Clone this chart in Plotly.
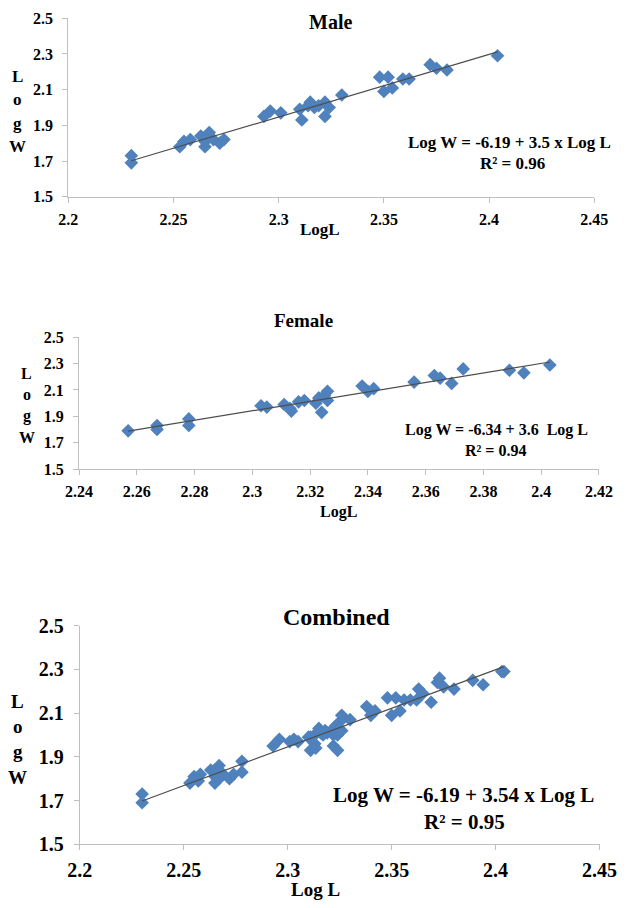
import numpy as np
import plotly.graph_objects as go

# ---------------- data ----------------
male_logL = [2.230, 2.230, 2.253, 2.255, 2.258, 2.263, 2.265, 2.265, 2.267, 2.269,
             2.272, 2.274, 2.293, 2.296, 2.301, 2.310, 2.311, 2.314, 2.315, 2.317,
             2.319, 2.322, 2.322, 2.324, 2.330, 2.348, 2.352, 2.350, 2.354, 2.359,
             2.362, 2.372, 2.375, 2.380, 2.404]
male_logW = [1.73, 1.69, 1.78, 1.81, 1.82, 1.84, 1.81, 1.78, 1.86, 1.82,
             1.80, 1.82, 1.95, 1.98, 1.97, 1.99, 1.93, 2.01, 2.03, 2.00,
             2.01, 2.03, 1.95, 2.00, 2.07, 2.17, 2.17, 2.09, 2.11, 2.16,
             2.16, 2.24, 2.22, 2.21, 2.29]

female_logL = [2.257, 2.267, 2.267, 2.278, 2.278, 2.303, 2.305, 2.311, 2.313, 2.3135,
               2.316, 2.318, 2.322, 2.323, 2.324, 2.325, 2.326, 2.326, 2.338, 2.340,
               2.342, 2.356, 2.363, 2.365, 2.369, 2.373, 2.389, 2.394, 2.403]
female_logW = [1.79, 1.83, 1.80, 1.88, 1.83, 1.98, 1.97, 1.99, 1.96, 1.94,
               2.01, 2.02, 2.00, 2.04, 1.93, 2.06, 2.09, 2.02, 2.13, 2.09,
               2.11, 2.16, 2.21, 2.19, 2.15, 2.26, 2.25, 2.23, 2.29]

combined_logL = male_logL + female_logL
combined_logW = male_logW + female_logW

x_ticks_mf = [2.2, 2.25, 2.3, 2.35, 2.4, 2.45]
x_ticktext_mf = ["2.2", "2.25", "2.3", "2.35", "2.4", "2.45"]
x_ticks_f = [2.24, 2.26, 2.28, 2.3, 2.32, 2.34, 2.36, 2.38, 2.4, 2.42]
x_ticktext_f = ["2.24", "2.26", "2.28", "2.3", "2.32", "2.34", "2.36", "2.38", "2.4", "2.42"]
y_ticks = [1.5, 1.7, 1.9, 2.1, 2.3, 2.5]
y_ticktext = ["1.5", "1.7", "1.9", "2.1", "2.3", "2.5"]

eq_male = "Log W = -6.19 + 3.5 x Log L"
r2_male = "R² = 0.96"
eq_female = "Log W = -6.34 + 3.6  Log L"
r2_female = "R² = 0.94"
eq_comb = "Log W = -6.19 + 3.54 x Log L"
r2_comb = "R² = 0.95"

# ---------------- layout helpers ----------------
OFF = 8                            # default page body margin
REF_W = 627 - OFF                  # reference width measured from the margin
W, H = 611, 908 - 2 * OFF          # figure size kept inside the visible area
FONT = "Liberation Serif"
BLUE = "#4F81BD"
AXC = "#BFBFBF"


def px(x):
    return (x - OFF) / REF_W


def py(y):
    return 1 - (y - OFF) / H


def bold(labels):
    return ["<b>%s</b>" % s for s in labels]


fig = go.Figure()

panels = [
    dict(xs=male_logL, ys=male_logW, ax="", box=(69, 602, 18.3, 196.7),
         xr=[2.2, 2.45], xt=x_ticks_mf, xtt=x_ticktext_mf, tf=16),
    dict(xs=female_logL, ys=female_logW, ax="2", box=(80, 606.7, 337.3, 469),
         xr=[2.24, 2.42], xt=x_ticks_f, xtt=x_ticktext_f, tf=16),
    dict(xs=combined_logL, ys=combined_logW, ax="3", box=(80.7, 607.3, 625.7, 844.3),
         xr=[2.2, 2.45], xt=x_ticks_mf, xtt=x_ticktext_mf, tf=20),
]

for p in panels:
    xa = "x" + p["ax"]
    ya = "y" + p["ax"]
    fig.add_trace(go.Scatter(
        x=p["xs"], y=p["ys"], mode="markers", xaxis=xa, yaxis=ya,
        marker=dict(symbol="diamond", size=10.5, color=BLUE, line=dict(width=0)),
        showlegend=False, hoverinfo="skip"))
    k, b = np.polyfit(p["xs"], p["ys"], 1)
    lx = np.array([min(p["xs"]), max(p["xs"])])
    fig.add_trace(go.Scatter(
        x=lx, y=k * lx + b, mode="lines", xaxis=xa, yaxis=ya,
        line=dict(color="#4D4D4D", width=1.2),
        showlegend=False, hoverinfo="skip"))
    x0, x1, yt, yb = p["box"]
    axis_common = dict(showline=True, linecolor=AXC, linewidth=1, ticks="outside",
                       ticklen=5, tickcolor=AXC, tickwidth=1, showgrid=False,
                       zeroline=False, automargin=False,
                       tickfont=dict(family=FONT, size=p["tf"], color="black"))
    fig.update_layout(**{
        ("xaxis" + p["ax"]): dict(domain=[px(x0), px(x1)], range=p["xr"],
                                  tickvals=p["xt"], ticktext=bold(p["xtt"]),
                                  anchor=ya, ticklabelstandoff=3, **axis_common),
        ("yaxis" + p["ax"]): dict(domain=[py(yb), py(yt)], range=[1.5, 2.5],
                                  tickvals=y_ticks, ticktext=bold(y_ticktext),
                                  anchor=xa, ticklabelstandoff=6, **axis_common),
    })

annotations = []


def txt(text, x, y, size):
    annotations.append(dict(text="<b>%s</b>" % text, x=px(x), y=py(y), xref="paper", yref="paper",
                            xanchor="center", yanchor="middle", showarrow=False,
                            font=dict(family=FONT, size=size, color="black")))


# titles
txt("Male", 335, 22, 20)
txt("Female", 307, 320, 19)
txt("Combined", 341, 617, 24)
# x titles
txt("LogL", 324, 230, 17)
txt("LogL", 343, 512, 16)
txt("Log L", 320, 889, 19)
# equations
txt(eq_male, 516, 143, 17)
txt(r2_male, 519, 163, 17)
txt(eq_female, 503, 430, 16)
txt(r2_female, 502, 450, 16)
txt(eq_comb, 469, 795, 21)
txt(r2_comb, 470, 822, 21)
# stacked y titles
for letters_x, y_first, y_last, size in [(18, 76, 147, 17), (27, 373, 437, 16), (18, 701, 777, 19)]:
    letters = ["L", "o", "g", "W"]
    for i, ch in enumerate(letters):
        txt(ch, letters_x, y_first + (y_last - y_first) * i / 3, size)

fig.update_layout(width=W, height=H, autosize=False,
                  margin=dict(l=0, r=0, t=0, b=0),
                  paper_bgcolor="white", plot_bgcolor="white",
                  annotations=annotations)

fig.write_html("out.html")
